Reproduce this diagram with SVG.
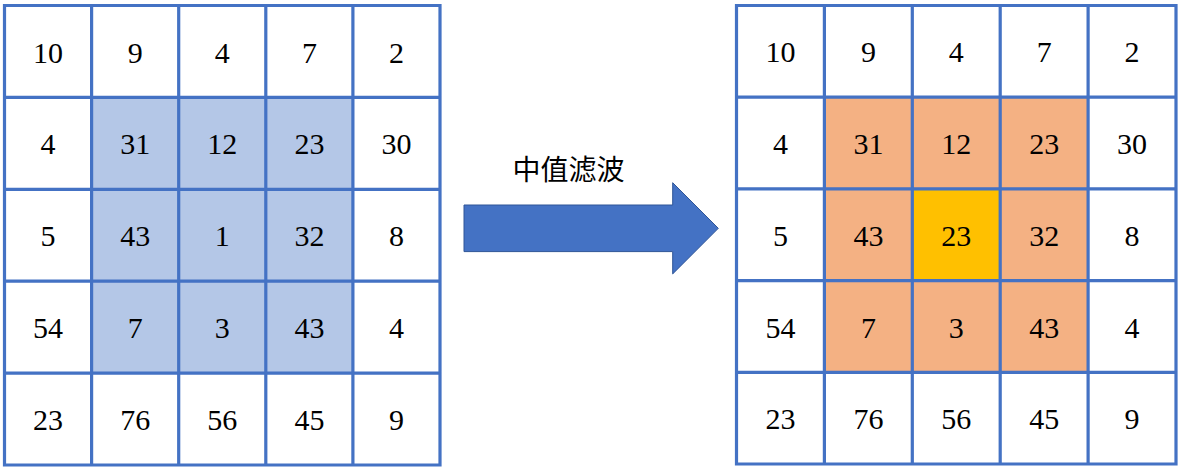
<svg xmlns="http://www.w3.org/2000/svg" width="1181" height="472" viewBox="0 0 1181 472">
<style>
.w{fill:#FFFFFF}
.b{fill:#B4C7E7}
.o{fill:#F4B183}
.y{fill:#FFC000}
.grid{fill:none;stroke:#4472C4;stroke-width:3.2}
.n{font-family:"Liberation Serif","Times New Roman",Tinos,"Nimbus Roman","DejaVu Serif",serif;font-size:30px;fill:#000000;text-anchor:middle}
.lbl{font-family:"Noto Sans CJK SC","Noto Sans",sans-serif;font-size:28px;fill:#000000;text-anchor:middle}
.arrow{fill:#4472C4;stroke:#2F5597;stroke-width:1}
</style>
<rect width="1181" height="472" fill="#FFFFFF"/>
<g id="left-grid">
<g id="L00"><rect class="w" x="4.5" y="5.5" width="87.1" height="91.9"/><text class="n" x="48" y="62.5">10</text></g>
<g id="L01"><rect class="w" x="91.6" y="5.5" width="87.1" height="91.9"/><text class="n" x="135.2" y="62.5">9</text></g>
<g id="L02"><rect class="w" x="178.7" y="5.5" width="87.1" height="91.9"/><text class="n" x="222.3" y="62.5">4</text></g>
<g id="L03"><rect class="w" x="265.8" y="5.5" width="87.1" height="91.9"/><text class="n" x="309.4" y="62.5">7</text></g>
<g id="L04"><rect class="w" x="352.9" y="5.5" width="87.1" height="91.9"/><text class="n" x="396.5" y="62.5">2</text></g>
<g id="L10"><rect class="w" x="4.5" y="97.4" width="87.1" height="91.9"/><text class="n" x="48" y="154.4">4</text></g>
<g id="L11"><rect class="b" x="91.6" y="97.4" width="87.1" height="91.9"/><text class="n" x="135.2" y="154.4">31</text></g>
<g id="L12"><rect class="b" x="178.7" y="97.4" width="87.1" height="91.9"/><text class="n" x="222.3" y="154.4">12</text></g>
<g id="L13"><rect class="b" x="265.8" y="97.4" width="87.1" height="91.9"/><text class="n" x="309.4" y="154.4">23</text></g>
<g id="L14"><rect class="w" x="352.9" y="97.4" width="87.1" height="91.9"/><text class="n" x="396.5" y="154.4">30</text></g>
<g id="L20"><rect class="w" x="4.5" y="189.3" width="87.1" height="91.9"/><text class="n" x="48" y="246.3">5</text></g>
<g id="L21"><rect class="b" x="91.6" y="189.3" width="87.1" height="91.9"/><text class="n" x="135.2" y="246.3">43</text></g>
<g id="L22"><rect class="b" x="178.7" y="189.3" width="87.1" height="91.9"/><text class="n" x="222.3" y="246.3">1</text></g>
<g id="L23"><rect class="b" x="265.8" y="189.3" width="87.1" height="91.9"/><text class="n" x="309.4" y="246.3">32</text></g>
<g id="L24"><rect class="w" x="352.9" y="189.3" width="87.1" height="91.9"/><text class="n" x="396.5" y="246.3">8</text></g>
<g id="L30"><rect class="w" x="4.5" y="281.2" width="87.1" height="91.9"/><text class="n" x="48" y="338.2">54</text></g>
<g id="L31"><rect class="b" x="91.6" y="281.2" width="87.1" height="91.9"/><text class="n" x="135.2" y="338.2">7</text></g>
<g id="L32"><rect class="b" x="178.7" y="281.2" width="87.1" height="91.9"/><text class="n" x="222.3" y="338.2">3</text></g>
<g id="L33"><rect class="b" x="265.8" y="281.2" width="87.1" height="91.9"/><text class="n" x="309.4" y="338.2">43</text></g>
<g id="L34"><rect class="w" x="352.9" y="281.2" width="87.1" height="91.9"/><text class="n" x="396.5" y="338.2">4</text></g>
<g id="L40"><rect class="w" x="4.5" y="373.1" width="87.1" height="91.9"/><text class="n" x="48" y="430.1">23</text></g>
<g id="L41"><rect class="w" x="91.6" y="373.1" width="87.1" height="91.9"/><text class="n" x="135.2" y="430.1">76</text></g>
<g id="L42"><rect class="w" x="178.7" y="373.1" width="87.1" height="91.9"/><text class="n" x="222.3" y="430.1">56</text></g>
<g id="L43"><rect class="w" x="265.8" y="373.1" width="87.1" height="91.9"/><text class="n" x="309.4" y="430.1">45</text></g>
<g id="L44"><rect class="w" x="352.9" y="373.1" width="87.1" height="91.9"/><text class="n" x="396.5" y="430.1">9</text></g>
<path id="left-lines" class="grid" d="M4.5,5.5 H440 V465 H4.5 Z M91.6,5.5 V465 M178.7,5.5 V465 M265.8,5.5 V465 M352.9,5.5 V465 M4.5,97.4 H440 M4.5,189.3 H440 M4.5,281.2 H440 M4.5,373.1 H440"/>
</g>
<g id="right-grid">
<g id="R00"><rect class="w" x="736.5" y="5.5" width="87.9" height="91.7"/><text class="n" x="780.5" y="62.4">10</text></g>
<g id="R01"><rect class="w" x="824.4" y="5.5" width="87.9" height="91.7"/><text class="n" x="868.4" y="62.4">9</text></g>
<g id="R02"><rect class="w" x="912.3" y="5.5" width="87.9" height="91.7"/><text class="n" x="956.3" y="62.4">4</text></g>
<g id="R03"><rect class="w" x="1000.2" y="5.5" width="87.9" height="91.7"/><text class="n" x="1044.2" y="62.4">7</text></g>
<g id="R04"><rect class="w" x="1088.1" y="5.5" width="87.9" height="91.7"/><text class="n" x="1132.1" y="62.4">2</text></g>
<g id="R10"><rect class="w" x="736.5" y="97.2" width="87.9" height="91.7"/><text class="n" x="780.5" y="154.1">4</text></g>
<g id="R11"><rect class="o" x="824.4" y="97.2" width="87.9" height="91.7"/><text class="n" x="868.4" y="154.1">31</text></g>
<g id="R12"><rect class="o" x="912.3" y="97.2" width="87.9" height="91.7"/><text class="n" x="956.3" y="154.1">12</text></g>
<g id="R13"><rect class="o" x="1000.2" y="97.2" width="87.9" height="91.7"/><text class="n" x="1044.2" y="154.1">23</text></g>
<g id="R14"><rect class="w" x="1088.1" y="97.2" width="87.9" height="91.7"/><text class="n" x="1132.1" y="154.1">30</text></g>
<g id="R20"><rect class="w" x="736.5" y="188.9" width="87.9" height="91.7"/><text class="n" x="780.5" y="245.8">5</text></g>
<g id="R21"><rect class="o" x="824.4" y="188.9" width="87.9" height="91.7"/><text class="n" x="868.4" y="245.8">43</text></g>
<g id="R22"><rect class="y" x="912.3" y="188.9" width="87.9" height="91.7"/><text class="n" x="956.3" y="245.8">23</text></g>
<g id="R23"><rect class="o" x="1000.2" y="188.9" width="87.9" height="91.7"/><text class="n" x="1044.2" y="245.8">32</text></g>
<g id="R24"><rect class="w" x="1088.1" y="188.9" width="87.9" height="91.7"/><text class="n" x="1132.1" y="245.8">8</text></g>
<g id="R30"><rect class="w" x="736.5" y="280.6" width="87.9" height="91.7"/><text class="n" x="780.5" y="337.5">54</text></g>
<g id="R31"><rect class="o" x="824.4" y="280.6" width="87.9" height="91.7"/><text class="n" x="868.4" y="337.5">7</text></g>
<g id="R32"><rect class="o" x="912.3" y="280.6" width="87.9" height="91.7"/><text class="n" x="956.3" y="337.5">3</text></g>
<g id="R33"><rect class="o" x="1000.2" y="280.6" width="87.9" height="91.7"/><text class="n" x="1044.2" y="337.5">43</text></g>
<g id="R34"><rect class="w" x="1088.1" y="280.6" width="87.9" height="91.7"/><text class="n" x="1132.1" y="337.5">4</text></g>
<g id="R40"><rect class="w" x="736.5" y="372.3" width="87.9" height="91.7"/><text class="n" x="780.5" y="429.2">23</text></g>
<g id="R41"><rect class="w" x="824.4" y="372.3" width="87.9" height="91.7"/><text class="n" x="868.4" y="429.2">76</text></g>
<g id="R42"><rect class="w" x="912.3" y="372.3" width="87.9" height="91.7"/><text class="n" x="956.3" y="429.2">56</text></g>
<g id="R43"><rect class="w" x="1000.2" y="372.3" width="87.9" height="91.7"/><text class="n" x="1044.2" y="429.2">45</text></g>
<g id="R44"><rect class="w" x="1088.1" y="372.3" width="87.9" height="91.7"/><text class="n" x="1132.1" y="429.2">9</text></g>
<path id="right-lines" class="grid" d="M736.5,5.5 H1176 V464 H736.5 Z M824.4,5.5 V464 M912.3,5.5 V464 M1000.2,5.5 V464 M1088.1,5.5 V464 M736.5,97.2 H1176 M736.5,188.9 H1176 M736.5,280.6 H1176 M736.5,372.3 H1176"/>
</g>
<g id="connectors">
<path class="arrow" d="M464,205 H672.7 V182.7 L718.3,228.3 L672.7,273.9 V251.6 H464 Z"/>
</g>
<g id="label">
<text class="lbl" x="568.5" y="180">中值滤波</text>
</g>
</svg>
